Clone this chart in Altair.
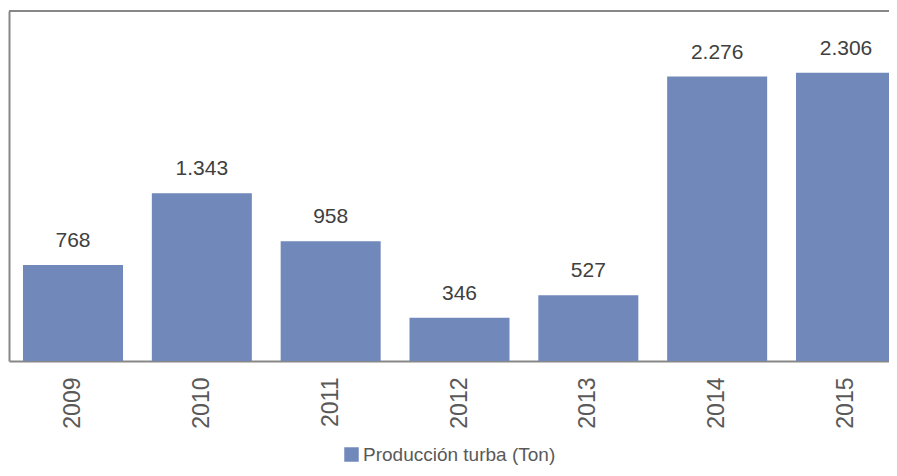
import altair as alt
import pandas as pd

years = ["2009", "2010", "2011", "2012", "2013", "2014", "2015"]
values = [768, 1343, 958, 346, 527, 2276, 2306]
series_name = "Producción turba (Ton)"

df = pd.DataFrame({"year": years, "value": values, "series": [series_name] * len(years)})

FONT = "Liberation Sans"
GRAY = "#878787"

x = alt.X(
    "year:N",
    sort=years,
    title=None,
    scale=alt.Scale(range=[0, 901], paddingInner=0.2236, paddingOuter=0.1087),
    axis=alt.Axis(
        labelAngle=270,
        labelFontSize=23,
        labelFont=FONT,
        labelColor="#595959",
        labelPadding=16,
        ticks=False,
        domainColor=GRAY,
        domainWidth=2,
        grid=False,
    ),
)
y = alt.Y(
    "value:Q",
    title=None,
    scale=alt.Scale(domain=[0, 2800], nice=False),
    axis=alt.Axis(labels=False, ticks=False, grid=False, domainColor=GRAY, domainWidth=2),
)

base = alt.Chart(df)

bars = base.mark_bar().encode(
    x=x,
    y=y,
    color=alt.Color(
        "series:N",
        scale=alt.Scale(range=["#7189BA"]),
        legend=alt.Legend(
            title=None,
            orient="none",
            legendX=333,
            legendY=434,
            symbolType="square",
            symbolSize=210,
            symbolStrokeWidth=0,
            labelFont=FONT,
            labelFontSize=19,
            labelColor="#595959",
            labelOffset=2,
            labelLimit=0,
        ),
    ),
)

labels = base.transform_calculate(
    label="replace(format(datum.value, ','), ',', '.')"
).mark_text(
    font=FONT, fontSize=21, color="#404040", baseline="alphabetic", dy=-18
).encode(x=x, y=y, text="label:N")

top_line = alt.Chart(pd.DataFrame({"v": [2800]})).mark_rule(
    color=GRAY, strokeWidth=2
).encode(y=alt.Y("v:Q", scale=alt.Scale(domain=[0, 2800], nice=False)))

chart = (
    alt.layer(bars, labels, top_line)
    .properties(
        width=880,
        height=350,
        autosize=alt.AutoSizeParams(type="none"),
        padding={"left": 1, "top": 3, "right": 0, "bottom": 106},
        background="white",
    )
    .configure_view(stroke=None)
)

chart.save("out.html", embed_options={"renderer": "svg", "actions": False})
